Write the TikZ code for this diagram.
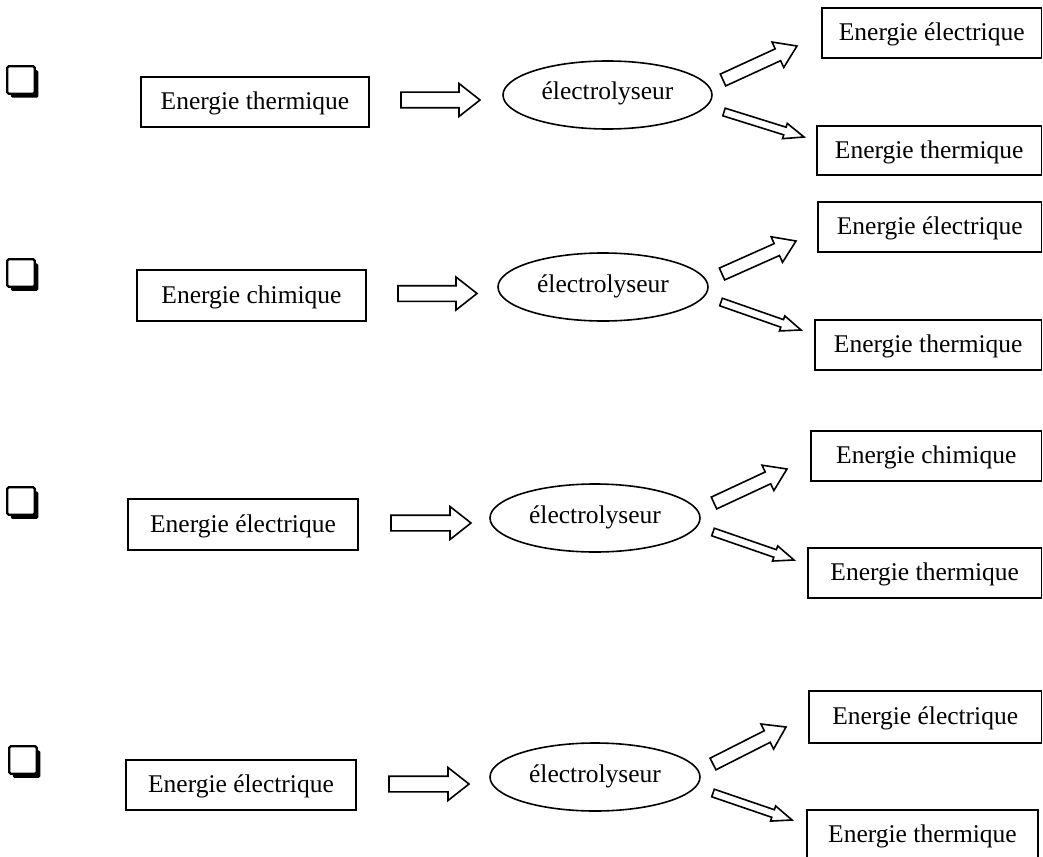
\documentclass[tikz,border=0pt]{standalone}
\usepackage{fontspec}
\setmainfont{Liberation Serif}
\usetikzlibrary{shapes.geometric,shadows,calc}
\tikzset{
  lbl/.style={font=\fontsize{25.5}{30}\selectfont},
  box/.style={lbl, draw, line width=1.7pt, inner sep=0pt, minimum height=50pt,
    text height=15.5pt, text depth=0pt},
  oval/.style={lbl, ellipse, draw, line width=1.6pt, inner sep=0pt, minimum width=209pt, minimum height=68pt,
    text height=17pt, text depth=7pt},
  chk/.style={draw, fill=white, line width=2.4pt, minimum size=27.5pt, inner sep=0pt, rounded corners=1.5pt,
    general shadow={fill=black, shadow xshift=3.5pt, shadow yshift=-4pt}},
  fat/.style={draw, line width=1.6pt, fill=white, line join=miter},
}
% #1 start, #2 end, #3 shaft half width, #4 head half width, #5 head length (all in pt)
\newcommand\fatarrow[5]{%
  \path let \p1=($(#2)-(#1)$), \n1={atan2(\y1,\x1)}, \n2={veclen(\x1,\y1)} in
    \pgfextra{\xdef\myAng{\n1}\xdef\myLen{\n2}};
  \begin{scope}[shift={(#1)}, rotate=\myAng]
    \draw[fat] (0pt,-#3pt) -- ({\myLen-#5pt},-#3pt) -- ({\myLen-#5pt},-#4pt)
      -- ({\myLen},0pt) -- ({\myLen-#5pt},#4pt) -- ({\myLen-#5pt},#3pt)
      -- (0pt,#3pt) -- cycle;
  \end{scope}}
\begin{document}
\begin{tikzpicture}[x=1pt,y=-1pt]
\useasboundingbox (0,0) rectangle (1043,856);
\clip (0,0) rectangle (1043,856);
\fill[white] (0,0) rectangle (1043,856);

% ---------- Row 1 ----------
\node[chk] (c1) at (21,80) {};
\node[box, minimum width=228pt] (l1) at (255,102) {Energie thermique};
\node[oval] (e1) at (607.5,95) {électrolyseur};
\node[box, minimum width=219.5pt] (t1) at (931.75,33) {Energie électrique};
\node[box, minimum width=224.5pt, minimum height=49pt] (b1) at (929.25,150.5) {Energie thermique};
\coordinate (h1s) at (401,100);   \coordinate (h1e) at (480,100);
\coordinate (u1s) at (723,80);    \coordinate (u1e) at (797,46);
\coordinate (d1s) at (724,112);   \coordinate (d1e) at (804,137);

% ---------- Row 2 ----------
\node[chk] (c2) at (21,273) {};
\node[box, minimum width=229pt, minimum height=51pt] (l2) at (251.5,295.5) {Energie chimique};
\node[oval, minimum width=210pt] (e2) at (603,287) {électrolyseur};
\node[box, minimum width=223.5pt] (t2) at (929.75,227) {Energie électrique};
\node[box, minimum width=226.5pt] (b2) at (928.25,345) {Energie thermique};
\coordinate (h2s) at (398,293.5); \coordinate (h2e) at (477,293.5);
\coordinate (u2s) at (722,274);   \coordinate (u2e) at (796,241);
\coordinate (d2s) at (721,302);   \coordinate (d2e) at (801,330);

% ---------- Row 3 ----------
\node[chk] (c3) at (21,501) {};
\node[box, minimum width=230pt, minimum height=51pt] (l3) at (243,524.5) {Energie électrique};
\node[oval, minimum width=210pt] (e3) at (595,518) {électrolyseur};
\node[box, minimum width=230.5pt] (t3) at (926.25,456) {Energie chimique};
\node[box, minimum width=233.5pt] (b3) at (924.75,573) {Energie thermique};
\coordinate (h3s) at (391,523);   \coordinate (h3e) at (471,523);
\coordinate (u3s) at (714,503);   \coordinate (u3e) at (787,469);
\coordinate (d3s) at (713,532);   \coordinate (d3e) at (794,560);

% ---------- Row 4 ----------
\node[chk] (c4) at (23,760) {};
\node[box, minimum width=230pt] (l4) at (241,785) {Energie électrique};
\node[oval, minimum width=210pt] (e4) at (595,777) {électrolyseur};
\node[box, minimum width=232.5pt, minimum height=52pt] (t4) at (925.25,717) {Energie électrique};
\node[box, minimum width=231pt] (b4) at (922.5,835) {Energie thermique};
\coordinate (h4s) at (389,784);   \coordinate (h4e) at (469,784);
\coordinate (u4s) at (713,764);   \coordinate (u4e) at (786,727);
\coordinate (d4s) at (713,793);   \coordinate (d4e) at (792,820);

% ---------- block arrows ----------
\foreach \r in {1,2,3,4}{
  \fatarrow{h\r s}{h\r e}{7.8}{16.5}{21}
  \fatarrow{u\r s}{u\r e}{6.5}{14}{21}
  \fatarrow{d\r s}{d\r e}{4}{8}{20}
}
\end{tikzpicture}
\end{document}
